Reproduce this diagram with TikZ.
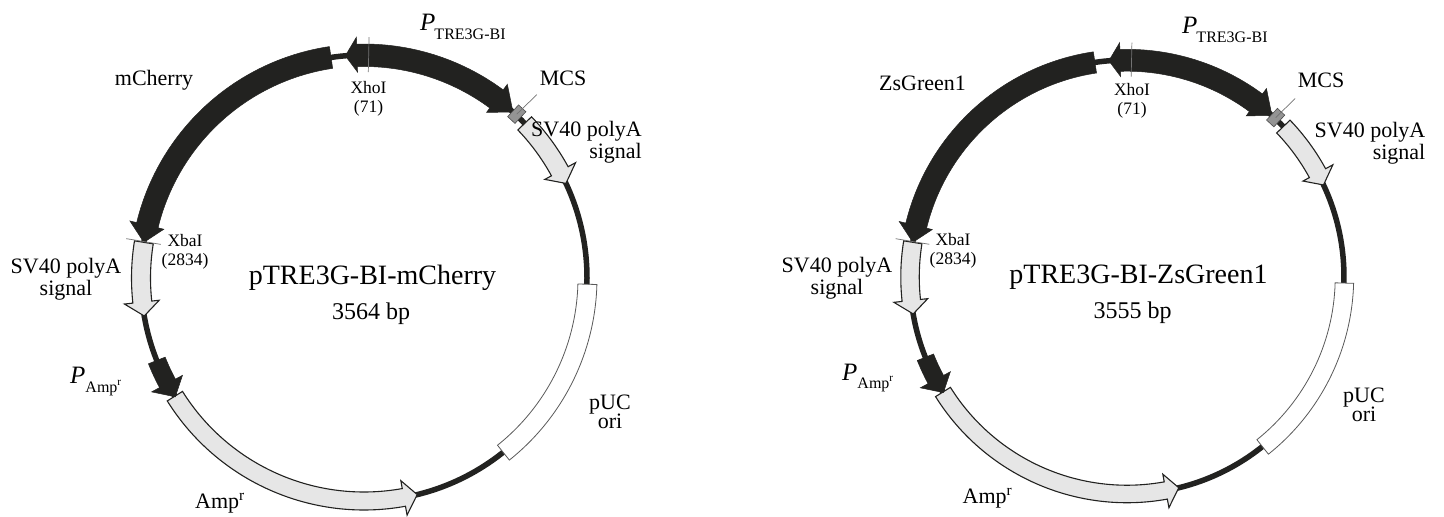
\documentclass[tikz,border=0pt]{standalone}
\usepackage{fontspec}
\setmainfont{Liberation Serif}

\tikzset{
    darkfeat/.style={fill=featblack, draw=featblack, line width=0.5pt, line join=miter},
    lightfeat/.style={fill=featgray, draw=featblack, line width=1.1pt, line join=miter},
    orifeat/.style={fill=white, draw=black!65, line width=0.8pt},
    backbone/.style={draw=featblack, line width=5.5pt},
    tickline/.style={draw=black!55, line width=0.7pt},
    mcsbox/.style={fill=black!42, draw=black!70, line width=0.6pt, minimum width=16pt, minimum height=10pt, inner sep=0pt},
    featlabel/.style={font=\fontsize{22}{22.5}\selectfont, inner sep=0pt, align=center},
    sitelabel/.style={font=\fontsize{17.5}{18.5}\selectfont, inner sep=0pt, align=center},
    namelabel/.style={font=\fontsize{28}{30}\selectfont, inner sep=0pt},
    sizelabel/.style={font=\fontsize{24}{24}\selectfont, inner sep=0pt},
    promlabel/.style={inner sep=0pt, anchor=base west}
}
\definecolor{featblack}{HTML}{222220}
\definecolor{featgray}{HTML}{E6E6E6}

% Feature arrow on the ring: half width, style, tail, barb and tip angles
\newcommand{\arcarrow}[5]{
    \pgfmathsetmacro{\rin}{223-#1}
    \pgfmathsetmacro{\rout}{223+#1}
    \draw[#2] (#3:\rin) arc[start angle=#3, end angle=#4, radius=\rin] -- (#4:206) -- (#5:223)
        -- (#4:241) -- (#4:\rout) arc[start angle=#4, end angle=#3, radius=\rout] -- cycle;
}
\newcommand{\promtext}[3]{{\fontsize{25}{25}\selectfont\itshape P}\hspace{#3}\raisebox{#2}{\fontsize{16}{16}\selectfont #1}}

\begin{document}
\begin{tikzpicture}[x=1pt, y=1pt]
    \useasboundingbox (0, 0) rectangle (1444, -517);

    % Both plasmid rings
    \foreach \cx/\cy/\sc in {364/278/1, 1127/277/0.973} {
        \begin{scope}[shift={(\cx, -\cy)}, scale=\sc]
            % Backbone
            \draw[backbone] (0, 0) circle[radius=223];

            % Origin of replication
            \draw[orifeat] (308.6:214) arc[start angle=308.6, end angle=358.4, radius=214]
                -- (358.4:233) arc[start angle=358.4, end angle=308.6, radius=233] -- cycle;

            % Light features
            \arcarrow{9.5}{lightfeat}{43.9}{28.6}{25.1}
            \arcarrow{9.5}{lightfeat}{170.8}{186.2}{189.8}
            \arcarrow{9}{lightfeat}{212}{280.3}{283.8}

            % Dark features
            \arcarrow{11}{darkfeat}{98.5}{166.3}{170.8}
            \arcarrow{9}{darkfeat}{201.7}{208.2}{212.2}

            % Bidirectional promoter
            \draw[darkfeat] (94.8:223) -- (91.8:241) -- (91.8:234)
                arc[start angle=91.8, end angle=53.5, radius=234]
                -- (53.5:241) -- (48.1:223) -- (53.5:206) -- (53.5:211.5)
                arc[start angle=53.5, end angle=91.8, radius=211.5]
                -- (91.8:206) -- cycle;

            % Cloning site and restriction marks
            \node[mcsbox, rotate=47] (mcs) at (47:224) {};
            \draw[tickline] (mcs.center) -- (46.7:252);
            \draw[tickline] (88.8:206) -- (88.8:241);
            \draw[tickline] (170.6:206) -- (170.6:241);
        \end{scope}
    }

    % Labels of the left map
    \node[promlabel] (ptreleft) at (420, -30) {\promtext{TRE3G-BI}{-9pt}{-1pt}};
    \node[featlabel, anchor=base] (mcherry) at (154, -85) {mCherry};
    \node[featlabel, anchor=base] (mcsleft) at (563, -85) {MCS};
    \node[sitelabel] (xholeft) at (368.5, -99) {XhoI\\(71)};
    \node[featlabel, align=right] (svupleft) at (586.5, -142) {SV40 polyA\\signal};
    \node[sitelabel] (xbaleft) at (185, -252) {XbaI\\(2834)};
    \node[featlabel] (svlowleft) at (66, -279) {SV40 polyA\\signal};
    \node[promlabel] (pampleft) at (70, -383) {\promtext{Amp\textsuperscript{r}}{-9pt}{0pt}};
    \node[featlabel, anchor=base] (ampleft) at (220, -508) {Amp\textsuperscript{r}};
    \node[featlabel] (orileft) at (610, -412) {pUC\\[-3pt]ori};
    \node[namelabel, anchor=base] (nameleft) at (372.5, -284) {pTRE3G-BI-mCherry};
    \node[sizelabel, anchor=base] (sizeleft) at (371, -319) {3564 bp};

    % Labels of the right map
    \node[promlabel] (ptreright) at (1182, -33) {\promtext{TRE3G-BI}{-9pt}{-1pt}};
    \node[featlabel, anchor=base] (zsgreen) at (922.5, -90) {ZsGreen1};
    \node[featlabel, anchor=base] (mcsright) at (1321, -87) {MCS};
    \node[sitelabel] (xhoright) at (1132, -101) {XhoI\\(71)};
    \node[featlabel, align=right] (svupright) at (1370, -143) {SV40 polyA\\signal};
    \node[sitelabel] (xbaright) at (953, -251) {XbaI\\(2834)};
    \node[featlabel] (svlowright) at (837, -278) {SV40 polyA\\signal};
    \node[promlabel] (pampright) at (842, -380) {\promtext{Amp\textsuperscript{r}}{-8pt}{0pt}};
    \node[featlabel, anchor=base] (ampright) at (987.5, -503) {Amp\textsuperscript{r}};
    \node[featlabel] (oriright) at (1364, -405) {pUC\\[-3pt]ori};
    \node[namelabel, anchor=base] (nameright) at (1138.5, -283) {pTRE3G-BI-ZsGreen1};
    \node[sizelabel, anchor=base] (sizeright) at (1132.5, -318) {3555 bp};
\end{tikzpicture}
\end{document}
